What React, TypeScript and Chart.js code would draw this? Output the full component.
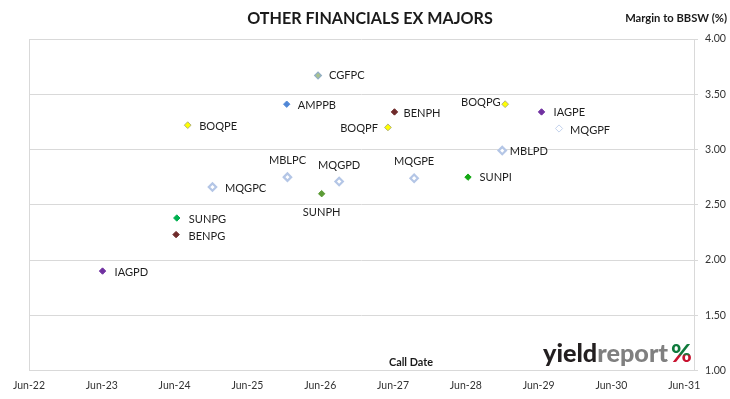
import React, { useEffect, useRef } from 'react';
import { Chart, registerables } from 'chart.js';

Chart.register(...registerables);

// ---------- data ----------
const securities = [
  'CGFPC', 'AMPPB', 'BENPH', 'BOQPF', 'MBLPC', 'MQGPD', 'MQGPE', 'SUNPH', 'BOQPE',
  'MQGPC', 'SUNPG', 'BENPG', 'IAGPD', 'BOQPG', 'IAGPE', 'MQGPF', 'MBLPD', 'SUNPI',
];
// call date as decimal year
const callDates = [
  2026.47, 2026.04, 2027.52, 2027.43, 2026.05, 2026.76, 2027.79, 2026.52, 2024.68,
  2025.02, 2024.53, 2024.52, 2023.51, 2029.04, 2029.54, 2029.78, 2029.0, 2028.53,
];
// margin to BBSW (%)
const margins = [
  3.67, 3.41, 3.34, 3.2, 2.75, 2.71, 2.74, 2.6, 3.22,
  2.66, 2.38, 2.23, 1.9, 3.41, 3.34, 3.19, 2.99, 2.75,
];
const xTickValues = [2022.5, 2023.5, 2024.5, 2025.5, 2026.5, 2027.5, 2028.5, 2029.5, 2030.5, 2031.5];
const xTickLabels = ['Jun-22', 'Jun-23', 'Jun-24', 'Jun-25', 'Jun-26', 'Jun-27', 'Jun-28', 'Jun-29', 'Jun-30', 'Jun-31'];
const yTickValues = [1, 1.5, 2, 2.5, 3, 3.5, 4];

const titleText = 'OTHER FINANCIALS EX MAJORS';
const yAxisTitle = 'Margin to BBSW (%)';
const xAxisTitle = 'Call Date';

// ---------- styles ----------
const FONT = 'Lato';
type MarkerStyle = { fill: string; stroke: string; border: number; radius: number };
const filled = (c: string, s?: string): MarkerStyle => ({ fill: c, stroke: s || c, border: 1, radius: 3.2 });
const hollow: MarkerStyle = { fill: '#ffffff', stroke: '#b4c6e6', border: 2.2, radius: 3.7 };
const markerStyles: Record<string, MarkerStyle> = {
  CGFPC: { fill: '#a9c28e', stroke: '#93afc6', border: 1.2, radius: 3.4 },
  AMPPB: filled('#4f86d6', '#5a8fd8'),
  BENPH: filled('#6e2a2a'),
  BENPG: filled('#6e2a2a'),
  BOQPF: { fill: '#ffff00', stroke: '#b2b27a', border: 1, radius: 3.4 },
  BOQPE: { fill: '#ffff00', stroke: '#b2b27a', border: 1, radius: 3.4 },
  BOQPG: { fill: '#ffff00', stroke: '#b2b27a', border: 1, radius: 3.4 },
  MBLPC: hollow,
  MQGPD: hollow,
  MQGPE: hollow,
  MQGPC: hollow,
  MBLPD: hollow,
  MQGPF: { fill: '#ffffff', stroke: '#c3d2ec', border: 1, radius: 3.6 },
  SUNPH: filled('#5c9b36'),
  SUNPG: filled('#00b050'),
  SUNPI: filled('#14a814'),
  IAGPD: filled('#7030a0'),
  IAGPE: filled('#7030a0'),
};

type LabelPlace = { dx: number; dy: number; align: CanvasTextAlign };
const R = (dx = 11, dy = 1): LabelPlace => ({ dx, dy, align: 'left' });
const labelPlaces: Record<string, LabelPlace> = {
  CGFPC: R(11, 0),
  AMPPB: R(11, 1),
  BENPH: R(9, 1),
  BOQPF: { dx: -10, dy: 1.5, align: 'right' },
  MBLPC: { dx: 0, dy: -17, align: 'center' },
  MQGPD: { dx: 0, dy: -16, align: 'center' },
  MQGPE: { dx: 0, dy: -17, align: 'center' },
  SUNPH: { dx: 0, dy: 19, align: 'center' },
  BOQPE: R(11.5, 1),
  MQGPC: R(12.5, 1),
  SUNPG: R(12, 1.5),
  BENPG: R(12.5, 1.5),
  IAGPD: R(12, 1.5),
  BOQPG: { dx: -4.5, dy: -1.5, align: 'right' },
  IAGPE: R(12, 0.5),
  MQGPF: R(11, 1.5),
  MBLPD: R(7.5, 1),
  SUNPI: R(11.5, 0.5),
};

function fitSize(text: string, width: number, weight: string): number {
  const c = document.createElement('canvas').getContext('2d') as CanvasRenderingContext2D;
  c.font = `${weight} 100px ${FONT}`;
  return (100 * width) / c.measureText(text).width;
}

export default function App() {
  const ref = useRef<HTMLCanvasElement | null>(null);

  useEffect(() => {
    const canvas = ref.current;
    if (!canvas) return;

    const labelSize = fitSize('MQGPC', 41.3, '400');
    const xTickSize = fitSize('Jun-22', 32, '400');
    const yTickSize = fitSize('3.50', 21, '400');
    const titleSize = fitSize(titleText, 246, '700');
    const yTitleSize = fitSize(yAxisTitle, 102, '700');
    const xTitleSize = fitSize(xAxisTitle, 44, '700');
    const logoSize = fitSize('yieldreport', 125, '900');

    const textPlugin = {
      id: 'texts',
      afterDatasetsDraw(chart: any) {
        const ctx: CanvasRenderingContext2D = chart.ctx;
        const meta = chart.getDatasetMeta(0);
        ctx.save();
        ctx.font = `400 ${labelSize}px ${FONT}`;
        ctx.fillStyle = '#1e1e1e';
        ctx.textBaseline = 'middle';
        meta.data.forEach((el: any, i: number) => {
          const p = labelPlaces[securities[i]];
          ctx.textAlign = p.align;
          ctx.fillText(securities[i], el.x + p.dx, el.y + p.dy);
        });

        // chart title
        ctx.fillStyle = '#1a1a1a';
        ctx.textAlign = 'center';
        ctx.font = `700 ${titleSize}px ${FONT}`;
        ctx.fillText(titleText, 370, 19);
        // axis titles
        ctx.textAlign = 'right';
        ctx.font = `700 ${yTitleSize}px ${FONT}`;
        ctx.fillText(yAxisTitle, 727, 18);
        ctx.textAlign = 'center';
        ctx.font = `700 ${xTitleSize}px ${FONT}`;
        ctx.fillText(xAxisTitle, 411, 363);

        // logo
        ctx.textAlign = 'left';
        ctx.textBaseline = 'alphabetic';
        ctx.font = `900 ${logoSize}px ${FONT}`;
        const lx = 543;
        const ly = 362;
        ctx.fillStyle = '#231f20';
        ctx.fillText('yield', lx, ly);
        const wy = ctx.measureText('yield').width;
        ctx.fillStyle = '#808080';
        ctx.fillText('report', lx + wy, ly);
        const g = ctx.createLinearGradient(0, 346, 0, 364);
        g.addColorStop(0, '#0f7a3c');
        g.addColorStop(0.45, '#0f7a3c');
        g.addColorStop(0.55, '#c8102e');
        g.addColorStop(1, '#c8102e');
        ctx.fillStyle = g;
        ctx.fillText('%', 671, ly);
        ctx.restore();
      },
    };

    const chart = new Chart(canvas, {
      type: 'scatter',
      data: {
        datasets: [
          {
            data: callDates.map((x, i) => ({ x, y: margins[i] })),
            pointStyle: 'rectRot',
            pointRadius: securities.map((s) => markerStyles[s].radius),
            pointBackgroundColor: securities.map((s) => markerStyles[s].fill),
            pointBorderColor: securities.map((s) => markerStyles[s].stroke),
            pointBorderWidth: securities.map((s) => markerStyles[s].border),
          },
        ],
      },
      options: {
        animation: false,
        responsive: false,
        maintainAspectRatio: false,
        layout: { padding: { left: 29, top: 39, right: 0, bottom: 0 } },
        plugins: {
          legend: { display: false },
          tooltip: { enabled: false },
          title: { display: false },
        },
        scales: {
          x: {
            type: 'linear',
            min: 2022.5,
            max: 2031.634,
            afterBuildTicks: (s: any) => {
              s.ticks = xTickValues.map((v) => ({ value: v }));
            },
            afterFit: (s: any) => {
              s.height = 28.5;
            },
            ticks: {
              autoSkip: false,
              maxRotation: 0,
              padding: 9,
              color: '#333333',
              font: { family: FONT, size: xTickSize },
              callback: (v: any) => {
                const i = xTickValues.findIndex((t) => Math.abs(t - Number(v)) < 1e-6);
                return i >= 0 ? xTickLabels[i] : '';
              },
            },
            grid: {
              drawTicks: false,
              color: (c: any) => (c.index === 0 ? '#d9d9d9' : 'rgba(0,0,0,0)'),
            },
            border: { display: true, color: '#d9d9d9' },
          },
          y: {
            position: 'right',
            min: 1,
            max: 4,
            afterBuildTicks: (s: any) => {
              s.ticks = yTickValues.map((v) => ({ value: v }));
            },
            afterFit: (s: any) => {
              s.width = 36;
            },
            ticks: {
              padding: 7,
              color: '#333333',
              font: { family: FONT, size: yTickSize },
              callback: (v: any) => Number(v).toFixed(2),
            },
            grid: { color: '#d9d9d9', tickLength: 4 },
            border: { display: true, color: '#d9d9d9' },
          },
        },
      } as any,
      plugins: [textPlugin],
    });

    return () => chart.destroy();
  }, []);

  return (
    <div style={{ position: 'fixed', left: 0, top: 0, width: 730, height: 399, background: '#ffffff' }}>
      <canvas ref={ref} width={730} height={399} style={{ display: 'block', width: 730, height: 399 }} />
    </div>
  );
}
